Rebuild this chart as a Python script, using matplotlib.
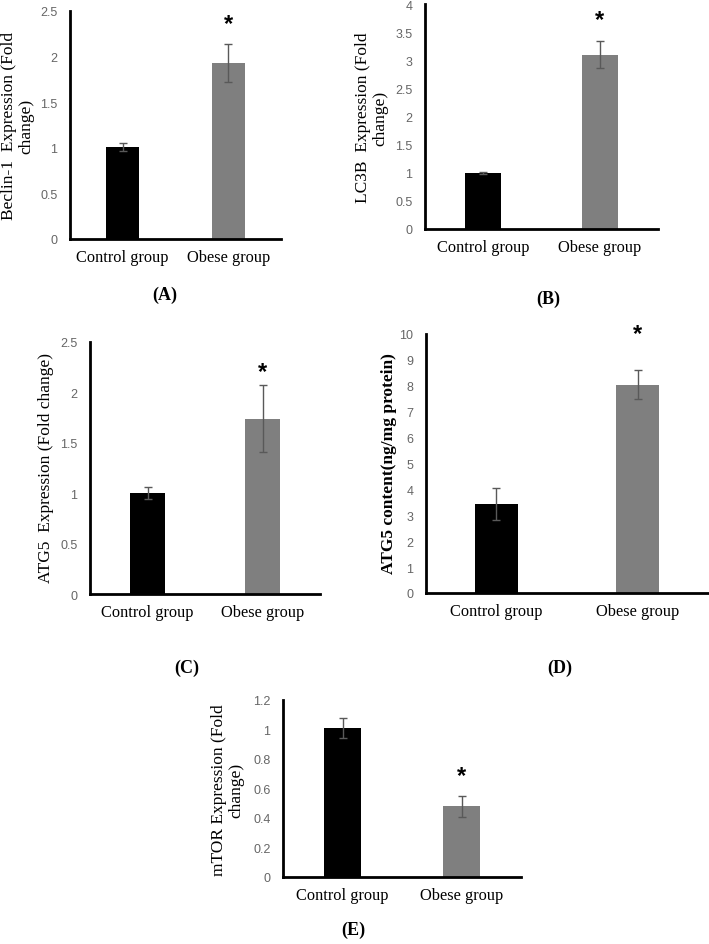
import matplotlib
matplotlib.use("Agg")
import matplotlib.pyplot as plt
from matplotlib.ticker import FuncFormatter, MultipleLocator

W, H = 709, 945

groups = ["Control group", "Obese group"]

# panel values
beclin_mean = [1.01, 1.93]
beclin_err = [0.04, 0.21]
lc3b_mean = [1.00, 3.10]
lc3b_err = [0.02, 0.24]
atg5_mean = [1.00, 1.74]
atg5_err = [0.06, 0.33]
atg5c_mean = [3.45, 8.05]
atg5c_err = [0.62, 0.55]
mtor_mean = [1.01, 0.48]
mtor_err = [0.07, 0.07]

# where the asterisk sits (on the obese bar)
star_y = [2.36, 3.73, 2.21, 10.0, 0.685]

serif = "Liberation Serif"
sans = "Liberation Sans"

fig = plt.figure(figsize=(W / 100, H / 100), dpi=100)


def px_axes(left, right, top, bottom):
    return fig.add_axes([left / W, 1 - bottom / H, (right - left) / W, (bottom - top) / H])


def panel(box, mean, err, ymax, step, star, ylabel, ylab_xy, tag, tag_xy, bold_ylabel=False):
    ax = px_axes(*box)
    x = [0, 1]
    ax.bar(x, mean, width=0.31, color=["#000000", "#7f7f7f"], zorder=2)
    ax.errorbar(x, mean, yerr=err, fmt="none", ecolor="#595959",
                elinewidth=1, capsize=3, capthick=1, zorder=3)
    ax.text(1, star, "*", ha="center", va="center", fontsize=17,
            fontweight="bold", family=sans)
    ax.set_xlim(-0.5, 1.5)
    ax.set_ylim(0, ymax)
    ax.yaxis.set_major_locator(MultipleLocator(step))
    ax.yaxis.set_major_formatter(FuncFormatter(lambda v, p: "%g" % round(v, 2)))
    ax.set_xticks(x)
    ax.set_xticklabels(groups, family=serif, fontsize=11.8)
    for t in ax.get_yticklabels():
        t.set_family(sans)
        t.set_fontsize(9)
        t.set_color("#666666")
    ax.tick_params(axis="both", length=0)
    ax.tick_params(axis="y", pad=9)
    ax.tick_params(axis="x", pad=7)
    for s in ["top", "right"]:
        ax.spines[s].set_visible(False)
    for s in ["left", "bottom"]:
        ax.spines[s].set_linewidth(2)
        ax.spines[s].set_color("black")
    ax.spines["left"].set_zorder(4)
    fig.text(ylab_xy[0] / W, 1 - ylab_xy[1] / H, ylabel, rotation=90,
             ha="center", va="center", multialignment="center",
             family=serif, fontsize=12.5, linespacing=1.1,
             fontweight="bold" if bold_ylabel else "normal")
    fig.text(tag_xy[0] / W, 1 - tag_xy[1] / H, tag, ha="center", va="center",
             family=serif, fontsize=13, fontweight="bold")
    return ax


panel((70, 281, 12, 240), beclin_mean, beclin_err, 2.5, 0.5, star_y[0],
      "Beclin-1  Expression (Fold\nchange)", (18, 126), "(A)", (165, 295))
panel((425, 658, 5, 230), lc3b_mean, lc3b_err, 4, 0.5, star_y[1],
      "LC3B  Expression (Fold\nchange)", (372, 118), "(B)", (548, 299))
panel((90, 320, 343, 595), atg5_mean, atg5_err, 2.5, 0.5, star_y[2],
      "ATG5  Expression (Fold change)", (46, 468), "(C)", (187, 668))
panel((426, 708, 335, 594), atg5c_mean, atg5c_err, 10, 1, star_y[3],
      "ATG5 content(ng/mg protein)", (389, 464), "(D)", (560, 668), bold_ylabel=True)
panel((283, 521, 701, 878), mtor_mean, mtor_err, 1.2, 0.2, star_y[4],
      "mTOR Expression (Fold\nchange)", (228, 790), "(E)", (353, 930))

fig.savefig("out.png", dpi=100)
